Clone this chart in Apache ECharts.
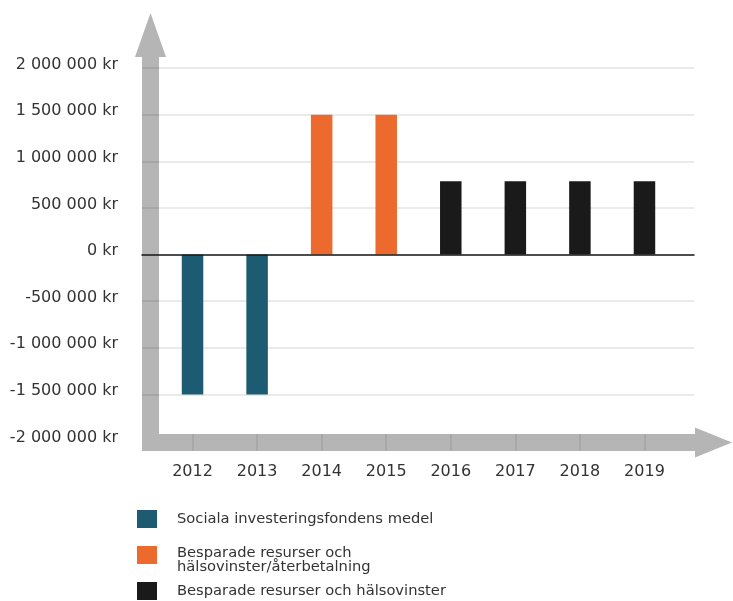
<!DOCTYPE html>
<html>
<head>
<meta charset="utf-8">
<script src="https://cdn.jsdelivr.net/npm/echarts@6/dist/echarts.min.js"></script>
<style>
html,body{margin:0;padding:0;background:#fff;}
#chart{width:733px;height:601px;}
</style>
</head>
<body>
<div id="chart"></div>
<script>
var categories = ['2012', '2013', '2014', '2015', '2016', '2017', '2018', '2019'];
var seriesNames = ['Sociala investeringsfondens medel', 'Besparade resurser och\nhälsovinster/återbetalning', 'Besparade resurser och hälsovinster'];
var socialFund = [-1500000, -1500000, null, null, null, null, null, null];
var savingsRepay = [null, null, 1500000, 1500000, null, null, null, null];
var savingsHealth = [null, null, null, null, 785000, 785000, 785000, 785000];
var yMin = -2000000, yMax = 2000000, yStep = 500000;

var FONT = 'DejaVu Sans';
var TXT = '#333333';
var GRAY = '#b5b5b5';
var GRID_LINE = 'rgba(0,0,0,0.11)';

function fmt(v) {
  var neg = v < 0;
  var s = String(Math.abs(v)).replace(/\B(?=(\d{3})+(?!\d))/g, ' ');
  return (neg ? '-' : '') + s + ' kr';
}

var chart = echarts.init(document.getElementById('chart'), null, {renderer: 'canvas'});
var legendBase = {
  orient: 'vertical', left: 132, itemWidth: 20, itemHeight: 18, icon: 'rect',
  selectedMode: false,
  textStyle: {fontFamily: FONT, fontSize: 14.7, color: TXT, padding: [0, 0, 0, 15]}
};
chart.setOption({
  animation: false,
  backgroundColor: '#ffffff',
  graphic: [
    {type: 'rect', z: -1, shape: {x: 142, y: 56, width: 17, height: 395}, style: {fill: GRAY}},
    {type: 'polygon', z: -1, shape: {points: [[135, 57], [150.5, 13], [166, 57]]}, style: {fill: GRAY}},
    {type: 'rect', z: -1, shape: {x: 142, y: 434, width: 554, height: 17}, style: {fill: GRAY}},
    {type: 'polygon', z: -1, shape: {points: [[695, 427.5], [732, 442.5], [695, 457.5]]}, style: {fill: GRAY}}
  ],
  grid: [
    {left: 142, right: 39, top: 68, height: 373},
    {left: 160.25, right: 56.25, top: 68, height: 373}
  ],
  xAxis: [
    {gridIndex: 0, type: 'value', min: 0, max: 1, z: 4,
      axisLine: {show: true, onZero: true, lineStyle: {color: '#1a1a1a', width: 1.5}},
      axisTick: {show: false}, axisLabel: {show: false}, splitLine: {show: false}},
    {gridIndex: 1, type: 'category', data: categories, offset: 10, z: 3,
      axisLine: {show: false, onZero: false},
      axisTick: {show: true, alignWithLabel: true, inside: true, length: 17, lineStyle: {color: '#a4a4a4', width: 1.5}},
      axisLabel: {margin: 13, fontFamily: FONT, fontSize: 16, color: TXT},
      splitLine: {show: false}}
  ],
  yAxis: [
    {gridIndex: 0, type: 'value', min: yMin, max: yMax, interval: yStep, z: 1,
      axisLine: {show: false}, axisTick: {show: false},
      axisLabel: {margin: 24, fontFamily: FONT, fontSize: 16, color: TXT, verticalAlign: 'bottom', lineHeight: 7, formatter: fmt},
      splitLine: {show: true, lineStyle: {width: 1.5, color: ['rgba(0,0,0,0)', GRID_LINE, GRID_LINE, GRID_LINE, GRID_LINE, GRID_LINE, GRID_LINE, GRID_LINE, GRID_LINE]}}},
    {gridIndex: 1, type: 'value', min: yMin, max: yMax, interval: yStep,
      axisLine: {show: false}, axisTick: {show: false}, axisLabel: {show: false}, splitLine: {show: false}}
  ],
  legend: [
    Object.assign({}, legendBase, {top: 505, data: [seriesNames[0]]}),
    Object.assign({}, legendBase, {top: 541, data: [seriesNames[1]],
      formatter: function (name) {
        var parts = name.split('\n');
        return '{a|' + parts[0] + '}\n{b|' + parts[1] + '}';
      },
      textStyle: {fontFamily: FONT, fontSize: 14.7, color: TXT, padding: [0, 0, 0, 15],
        rich: {
          a: {fontFamily: FONT, fontSize: 14.7, color: TXT, lineHeight: 25},
          b: {fontFamily: FONT, fontSize: 14.7, color: TXT, lineHeight: 3}
        }}}),
    Object.assign({}, legendBase, {top: 577, data: [seriesNames[2]]})
  ],
  series: [
    {name: seriesNames[0], type: 'bar', xAxisIndex: 1, yAxisIndex: 1, stack: 'a', barWidth: 21.5,
      data: socialFund, itemStyle: {color: '#1c5b71'}},
    {name: seriesNames[1], type: 'bar', xAxisIndex: 1, yAxisIndex: 1, stack: 'a', barWidth: 21.5,
      data: savingsRepay, itemStyle: {color: '#ec6a2d'}},
    {name: seriesNames[2], type: 'bar', xAxisIndex: 1, yAxisIndex: 1, stack: 'a', barWidth: 21.5,
      data: savingsHealth, itemStyle: {color: '#1a1a1a'}}
  ]
});
</script>
</body>
</html>
